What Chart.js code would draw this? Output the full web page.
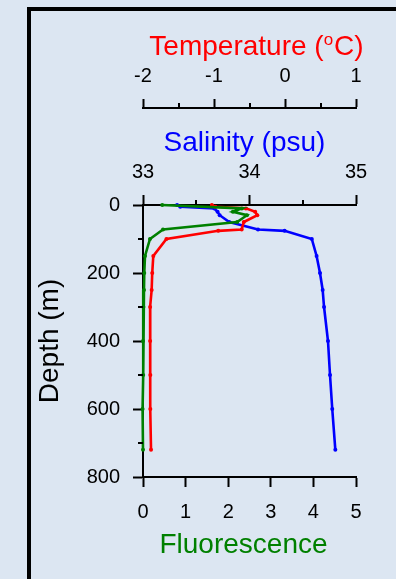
<!DOCTYPE html>
<html>
<head>
<meta charset="utf-8">
<title>CTD profile</title>
<script src="https://cdn.jsdelivr.net/npm/chart.js@4.4.1/dist/chart.umd.min.js"></script>
<style>
  html, body { margin: 0; padding: 0; background: #dce6f2; }
  #wrap { width: 396px; height: 579px; position: relative; }
</style>
</head>
<body>
<div id="wrap"><canvas id="profile" width="396" height="579"></canvas></div>
<script>
// Sampling depths (m) shared by the three profiles
const depths = [0, 5, 10, 20, 30, 50, 72, 76, 100, 150, 200, 250, 300, 400, 500, 600, 720];
// Temperature (degC)
const temperature = [-1.03, -0.98, -0.55, -0.42, -0.39, -0.58, -0.61, -0.94, -1.67, -1.855, -1.87, -1.878, -1.90, -1.90, -1.897, -1.897, -1.887];
// Salinity (psu)
const salinity = [33.32, 33.35, 33.67, 33.70, 33.72, 33.81, 34.08, 34.33, 34.585, 34.63, 34.662, 34.687, 34.70, 34.737, 34.756, 34.777, 34.806];
// Fluorescence (null where no reading)
const fluorescence = [0.45, null, 2.32, 2.11, 2.44, 2.21, 0.47, null, 0.164, 0.047, 0.03, 0.023, 0.01, 0.0, 0.005, -0.01, 0.0];

// Axis tick values
const tempTicks = [-2, -1, 0, 1];
const tempMinor = [-1.5, -0.5, 0.5];
const salTicks = [33, 34, 35];
const salMinor = [33.5, 34.5];
const fluoTicks = [0, 1, 2, 3, 4, 5];
const depthTicks = [0, 200, 400, 600, 800];
const depthMinor = [100, 300, 500, 700];

const FONT = "'Liberation Sans', Arial, sans-serif";
const BG = '#dce6f2';
Chart.defaults.font.family = FONT;
Chart.defaults.color = '#000';

function profile(values) {
  return depths.map((d, i) => ({ x: values[i], y: d }));
}

function fixedTicks(list) {
  return function (scale) {
    scale.ticks = list.map(v => ({ value: v }));
  };
}

const tickFont = { size: 20, family: FONT };
const titleFont = { size: 28, family: FONT };
const axisGrid = (len) => ({ drawOnChartArea: false, drawTicks: true, tickLength: len, tickColor: '#000', tickWidth: 2 });
const axisBorder = { display: true, color: '#000', width: 2 };

// Background, outer frame, minor ticks and the horizontal axis titles
const decorations = {
  id: 'decorations',
  beforeDraw(chart) {
    const ctx = chart.ctx;
    ctx.save();
    ctx.fillStyle = BG;
    ctx.fillRect(0, 0, chart.width, chart.height);
    ctx.strokeStyle = '#000';
    ctx.lineWidth = 4;
    ctx.strokeRect(29, 9, chart.width + 20, chart.height + 20);
    ctx.restore();
  },
  afterDraw(chart) {
    const ctx = chart.ctx;
    const { xT, xS, xF, y } = chart.scales;
    ctx.save();
    ctx.strokeStyle = '#000';
    ctx.lineWidth = 2;
    ctx.beginPath();
    depthMinor.forEach(v => {
      const py = Math.round(y.getPixelForValue(v));
      ctx.moveTo(y.right - 5, py);
      ctx.lineTo(y.right, py);
    });
    salMinor.forEach(v => {
      const px = Math.round(xS.getPixelForValue(v));
      ctx.moveTo(px, xS.bottom);
      ctx.lineTo(px, xS.bottom - 5);
    });
    tempMinor.forEach(v => {
      const px = Math.round(xT.getPixelForValue(v));
      ctx.moveTo(px, xT.bottom);
      ctx.lineTo(px, xT.bottom - 5);
    });
    ctx.stroke();

    const big = '28px ' + FONT, small = '17px ' + FONT;
    ctx.textBaseline = 'alphabetic';
    ctx.textAlign = 'center';
    ctx.font = big;
    const mid = (xS.left + xS.right) / 2;
    ctx.fillStyle = '#0000ff';
    ctx.fillText('Salinity (psu)', mid - 5, 151);
    ctx.fillStyle = '#008000';
    ctx.fillText('Fluorescence', (xF.left + xF.right) / 2 - 6, 553);

    // "Temperature (oC)" with a raised small o
    const a = 'Temperature (', o = 'o', c = 'C)';
    ctx.textAlign = 'left';
    ctx.font = big; const wa = ctx.measureText(a).width, wc = ctx.measureText(c).width;
    ctx.font = small; const wo = ctx.measureText(o).width + 1;
    const total = wa + wo + wc;
    const x0 = (xT.left + xT.right) / 2 + 7 - total / 2;
    const baseY = 55;
    ctx.fillStyle = '#ff0000';
    ctx.font = big; ctx.fillText(a, x0, baseY);
    ctx.font = small; ctx.fillText(o, x0 + wa, baseY - 10);
    ctx.font = big; ctx.fillText(c, x0 + wa + wo, baseY);
    ctx.restore();
  }
};

const lineStyle = (color) => ({
  borderColor: color,
  backgroundColor: color,
  borderWidth: 2.6,
  pointRadius: 2,
  pointBorderWidth: 0,
  pointBackgroundColor: color,
  showLine: true,
  spanGaps: true,
  tension: 0,
  clip: false,
  yAxisID: 'y'
});

new Chart(document.getElementById('profile'), {
  type: 'scatter',
  data: {
    datasets: [
      Object.assign({ label: 'Fluorescence', data: profile(fluorescence), xAxisID: 'xF' }, lineStyle('#008000')),
      Object.assign({ label: 'Temperature', data: profile(temperature), xAxisID: 'xT' }, lineStyle('#ff0000')),
      Object.assign({ label: 'Salinity', data: profile(salinity), xAxisID: 'xS' }, lineStyle('#0000ff'))
    ]
  },
  options: {
    responsive: false,
    animation: false,
    events: [],
    layout: { padding: { left: 0, right: 40, top: 0, bottom: 0 } },
    plugins: { legend: { display: false }, tooltip: { enabled: false } },
    scales: {
      y: {
        type: 'linear', position: 'left', reverse: true, min: 0, max: 800,
        afterBuildTicks: fixedTicks(depthTicks),
        ticks: { font: tickFont, padding: 13, color: '#000' },
        grid: axisGrid(10), border: axisBorder,
        title: { display: true, text: 'Depth (m)', font: titleFont, color: '#000', padding: { top: 33, bottom: 0 } },
        afterFit(s) { s.width = 143; }
      },
      xS: {
        type: 'linear', position: 'top', min: 33, max: 35, weight: 0,
        afterBuildTicks: fixedTicks(salTicks),
        ticks: { font: tickFont, padding: 11, color: '#000' },
        grid: axisGrid(10), border: axisBorder,
        title: { display: false },
        afterFit(s) { s.height = 97; }
      },
      xT: {
        type: 'linear', position: 'top', min: -2, max: 1, weight: 1,
        afterBuildTicks: fixedTicks(tempTicks),
        ticks: { font: tickFont, padding: 11, color: '#000' },
        grid: axisGrid(9), border: axisBorder,
        title: { display: false },
        afterFit(s) { s.height = 108; }
      },
      xF: {
        type: 'linear', position: 'bottom', min: 0, max: 5,
        afterBuildTicks: fixedTicks(fluoTicks),
        ticks: { font: tickFont, padding: 13, color: '#000' },
        grid: axisGrid(10), border: axisBorder,
        title: { display: false },
        afterFit(s) { s.height = 102; }
      }
    }
  },
  plugins: [decorations]
});
</script>
</body>
</html>
